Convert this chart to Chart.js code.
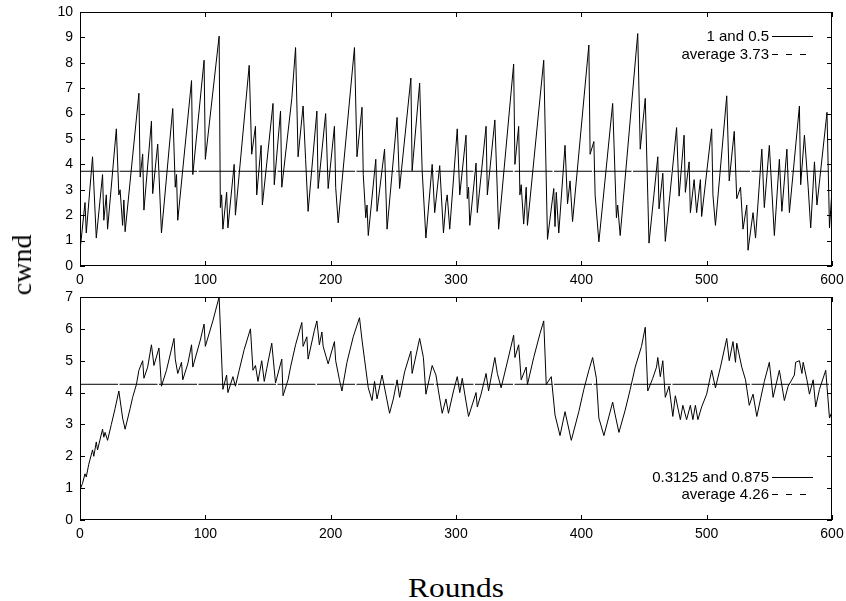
<!DOCTYPE html>
<html>
<head>
<meta charset="utf-8">
<script src="https://cdn.jsdelivr.net/npm/chart.js@4.4.1/dist/chart.umd.min.js"></script>
<style>
  body { margin: 0; background: #fff; }
  #wrap { position: relative; width: 846px; height: 601px; overflow: hidden; background: #fff; }
  canvas { position: absolute; left: 0; }
  #topChart { top: 0; }
  #bottomChart { top: 284px; }
  .title { position: absolute; font-family: "Liberation Serif", "Times New Roman", serif; font-size: 28px; color: #000; white-space: nowrap; }
  #yTitle { left: 22px; top: 265px; transform: translate(-50%, -50%) rotate(-90deg); }
  #xTitle { left: 456px; top: 588px; transform: translate(-50%, -50%) scaleX(1.12); }
</style>
</head>
<body>
<div id="wrap">
  <canvas id="topChart" width="846" height="292"></canvas>
  <canvas id="bottomChart" width="846" height="262"></canvas>
  <div class="title" id="yTitle">cwnd</div>
  <div class="title" id="xTitle">Rounds</div>
</div>
<script>
// rounds / cwnd (turning points of the saw tooth)
const topRounds = [0,4,5,10,13,18,19,21,22,29,31,32,34,35,36,47,48,50,51,57,58,62,65,74,76,77,78,89,90,99,100,111,112,113,114,117,118,123,124,135,137,140,141,144.5,145.5,154,155,160,161,169,172,174,178,180,182,189,190,196,198,203,204,206,219,221,225,226,228,229,230,236,237,243,245,253,255,264,265,271,273,276,281,283,287,290,292,293,295,301,303,308,309,310,311,316,317,324,325,331,334,346,347,350,351,352,354,356,357,370,373,378,379,380,382,387,389,391,393,406,407,410,411,414,425,428,429,431,445,447,451,454,461,462,465,467,476,478,482,483,486,487,490,492,495,496,504,505,507,516,518,522,524,527,529,532,533,537,539,544,546,550,554,558,560,564,566,574,575,578,581,583,586,588,596,598,600];
const topCwnd = [0.6,2.5,1.3,4.3,1.1,3.6,1.8,2.8,1.45,5.4,2.8,3.0,1.6,2.6,1.35,6.8,3.5,4.4,2.2,5.7,2.85,4.8,1.3,6.2,3.1,3.6,1.8,7.3,3.6,8.1,4.2,9.05,2.3,2.8,1.45,2.9,1.5,4.0,2.0,7.9,4.4,5.5,2.8,4.75,2.4,6.4,3.2,6.1,3.1,6.6,8.6,4.3,6.3,4.2,2.15,6.1,3.05,6.0,3.05,5.5,3.1,1.7,8.6,4.3,6.25,3.6,1.9,2.4,1.2,4.2,2.15,4.6,1.45,5.85,3.05,7.4,3.75,7.2,3.75,1.1,4.0,2.1,3.95,1.3,2.5,2.8,1.45,5.4,2.8,5.15,2.65,3.1,1.6,4.05,2.1,5.5,2.8,5.75,1.45,7.95,4.0,5.5,2.8,3.2,1.65,3.1,1.6,8.1,1.05,3.05,1.55,2.9,1.3,4.75,2.45,3.35,1.75,8.7,4.4,4.9,2.8,0.95,6.4,1.9,2.4,1.2,9.15,4.6,6.6,0.9,4.3,2.25,3.65,0.97,5.45,2.75,5.15,2.9,4.1,2.1,3.4,2.1,3.4,1.95,5.4,2.8,1.6,6.7,3.35,5.3,2.65,3.1,1.45,2.4,0.62,2.1,1.1,4.6,2.3,4.75,1.2,4.2,2.15,4.6,2.1,6.3,3.2,5.15,3.1,1.5,4.1,2.4,6.05,1.5,3.0];
const topAverage = 3.73;

const bottomRounds = [0,2,4,5,7,10,11,13,14,18,19,20,22,25,28,31,34,36,40,42,45,47,50,51,54,57,59,63,65,69,75,76,78,81,82,86,89,90,96,99,100,106,111,114,117,118,122,124,127,131,136,138,140,142,145,147,149,153,156,161,162,166,168,172,177,178,181,182,187,189,191,193,194,198,203,204,207,209,213,218,223,225,227,230,233,235,237,241,244,247,250,253,255,259,264,265,271,274,276,281,284,286,289,292,294,298,301,303,305,307,310,316,317,320,324,326,331,333,336,340,346,347,350,352,356,357,362,367,370,372,376,379,383,387,392,398,402,406,409,412,414,418,425,427,430,435,439,443,448,451,453,457,460,461,463,465,467,470,473,475,479,481,484,487,489,491,493,496,500,504,507,511,516,518,521,523,524,528,531,534,537,540,546,550,553,558,562,565,570,571,574,576,577,580,582,585,587,590,595,598,600];
const bottomCwnd = [0.95,1.15,1.45,1.35,1.75,2.2,2.0,2.45,2.2,2.85,2.6,2.75,2.5,3.0,3.5,4.05,3.2,2.85,3.5,3.85,4.25,4.7,5.0,4.45,4.8,5.5,4.85,5.4,4.2,4.7,5.7,5.05,4.6,4.95,4.4,4.9,5.5,4.8,5.65,6.15,5.45,6.25,7.0,4.1,4.55,4.0,4.5,4.2,4.7,5.35,6.0,4.7,4.85,4.35,5.0,4.35,4.75,5.55,4.3,5.05,3.9,4.4,4.8,5.5,6.2,5.45,5.75,5.05,5.95,6.25,5.5,5.9,5.45,4.9,5.6,5.0,4.4,4.05,4.95,5.75,6.35,5.65,5.05,4.15,3.75,4.35,3.8,4.55,3.95,3.35,3.8,4.4,3.85,4.65,5.3,4.6,5.7,5.1,3.95,4.85,4.55,4.05,3.35,3.8,3.35,4.05,4.5,4.0,4.45,3.95,3.25,4.0,3.55,3.95,4.6,4.05,5.1,4.6,4.15,4.8,5.8,5.1,5.5,4.4,4.8,4.25,5.1,5.85,6.25,4.25,4.5,3.3,2.65,3.4,2.5,3.4,4.1,4.7,5.1,4.45,3.2,2.65,3.7,3.3,2.75,3.45,4.1,4.8,5.45,6.05,4.05,4.45,4.8,5.1,4.5,5.0,3.85,4.2,3.25,3.9,3.15,3.6,3.15,3.6,3.15,3.6,3.15,3.55,3.95,4.7,4.15,4.8,5.7,5.0,5.6,4.95,5.55,4.8,4.4,3.6,3.95,3.25,4.35,4.95,3.85,4.7,3.75,4.2,4.55,4.95,5.0,4.6,4.95,4.4,3.95,4.4,3.55,4.1,4.7,3.2,3.4];
const bottomAverage = 4.26;

const xTickValues = [0, 100, 200, 300, 400, 500, 600];
const topYTicks = [0,1,2,3,4,5,6,7,8,9,10];
const bottomYTicks = [0,1,2,3,4,5,6,7];
const topLabels = ['1 and 0.5', 'average 3.73'];
const bottomLabels = ['0.3125 and 0.875', 'average 4.26'];

const tickFont = { family: '"Liberation Sans", Arial, sans-serif', size: 14 };

// inward ticks on all four sides, the frame and the key
const frameTicks = {
  id: 'frameTicks',
  afterDraw(chart, args, opts) {
    const { ctx, chartArea: a, scales: { x, y } } = chart;
    ctx.save();
    ctx.strokeStyle = '#000';
    ctx.lineWidth = 1;
    ctx.beginPath();
    x.ticks.forEach(t => {
      const px = Math.round(x.getPixelForValue(t.value)) + 0.5;
      ctx.moveTo(px, a.bottom); ctx.lineTo(px, a.bottom - 5);
      ctx.moveTo(px, a.top); ctx.lineTo(px, a.top + 5);
    });
    y.ticks.forEach(t => {
      const py = Math.round(y.getPixelForValue(t.value)) + 0.5;
      ctx.moveTo(a.left, py); ctx.lineTo(a.left + 5, py);
      ctx.moveTo(a.right, py); ctx.lineTo(a.right - 5, py);
    });
    ctx.stroke();
    ctx.strokeRect(a.left + 0.5, a.top + 0.5, a.width - 1, a.height - 1);

    ctx.font = '15px "Liberation Sans", Arial, sans-serif';
    ctx.fillStyle = '#000';
    ctx.textAlign = 'right';
    ctx.textBaseline = 'middle';
    opts.labels.forEach((txt, i) => {
      const ly = opts.y[i] + 0.5;
      ctx.fillText(txt, 769, ly);
      ctx.setLineDash(i === 0 ? [] : [6, 8]);
      ctx.beginPath();
      ctx.moveTo(772, ly);
      ctx.lineTo(813, ly);
      ctx.stroke();
    });
    ctx.restore();
  }
};

function makeChart(id, rounds, cwnd, avg, yTicks, labels, labelY, padTop) {
  const pts = rounds.map((r, i) => ({ x: r, y: cwnd[i] }));
  return new Chart(document.getElementById(id), {
    type: 'line',
    data: {
      datasets: [
        { data: pts, borderColor: '#000', borderWidth: 1, pointRadius: 0, tension: 0 },
        { data: [{ x: 0, y: avg }, { x: 600, y: avg }], borderColor: '#000', borderWidth: 1, borderDash: [38, 1.5], pointRadius: 0 }
      ]
    },
    options: {
      responsive: false,
      animation: false,
      events: [],
      layout: { padding: { top: padTop, right: 14, left: 0, bottom: 0 } },
      plugins: {
        legend: { display: false },
        tooltip: { enabled: false },
        frameTicks: { labels: labels, y: labelY }
      },
      scales: {
        x: {
          type: 'linear', min: 0, max: 600,
          grid: { display: false, drawTicks: false },
          border: { display: false },
          afterBuildTicks: s => { s.ticks = xTickValues.map(v => ({ value: v })); },
          afterFit: s => { s.height = 26; s.paddingLeft = 0; s.paddingRight = 0; },
          ticks: { font: tickFont, color: '#000', padding: 6, maxRotation: 0 }
        },
        y: {
          min: 0, max: yTicks[yTicks.length - 1],
          grid: { display: false, drawTicks: false },
          border: { display: false },
          afterBuildTicks: s => { s.ticks = yTicks.map(v => ({ value: v })); },
          afterFit: s => { s.width = 80; s.paddingTop = 0; s.paddingBottom = 0; },
          ticks: { font: tickFont, color: '#000', padding: 7 }
        }
      }
    },
    plugins: [frameTicks]
  });
}

makeChart('topChart', topRounds, topCwnd, topAverage, topYTicks, topLabels, [36, 54], 12);
makeChart('bottomChart', bottomRounds, bottomCwnd, bottomAverage, bottomYTicks, bottomLabels, [193, 210], 13);
</script>
</body>
</html>
